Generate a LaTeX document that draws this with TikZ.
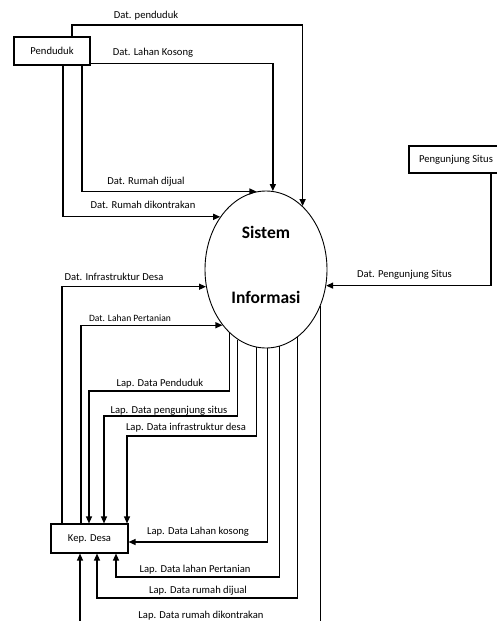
\documentclass[tikz,border=0pt]{standalone}
\usepackage{fontspec}
\setmainfont{Carlito}
\usetikzlibrary{arrows.meta,shapes.geometric}
\begin{document}
\begin{tikzpicture}[x=1pt,y=-1pt,
  ent/.style={draw,line width=1.1pt,rectangle,inner sep=0pt,font=\fontsize{10.6}{12}\selectfont},
  proc/.style={draw,line width=0.9pt,ellipse,inner sep=0pt,minimum width=122pt,minimum height=157pt},
  big/.style={font=\fontsize{17.5}{20}\selectfont\bfseries, inner sep=0pt},
  lbl/.style={font=\fontsize{10.6}{12}\selectfont, inner sep=0pt},
  flow/.style={line width=1.3pt,-{Triangle[length=7pt,width=6pt]}},
  plain/.style={line width=1.3pt}]
\useasboundingbox (0,0) rectangle (497,621);
\clip (0,0) rectangle (497,621);
% entities
\node[ent,minimum width=76pt,minimum height=28pt] (pend) at (52,51) {Penduduk};
\node[ent,minimum width=94pt,minimum height=27pt] (peng) at (456,159.5) {Pengunjung Situs};
\node[ent,minimum width=77pt,minimum height=29pt] (kep) at (89.5,538.5) {Kep. Desa};
% process
\node[proc] (ell) at (266,269.5) {};
\node[big] (t1) at (266,232) {Sistem};
\node[big] (t2) at (266,297) {Informasi};
% helper coordinates
\coordinate (a1) at (72,25);
\coordinate (x82) at (82,0);
\coordinate (x63) at (63,0);
\coordinate (x62) at (62,0);
\coordinate (x81) at (81,0);
\coordinate (x491) at (491,0);
\coordinate (b1) at (89,391);
\coordinate (b2) at (104,416);
\coordinate (b3) at (127,436);
\coordinate (b5) at (116,577);
\coordinate (b6) at (97,598);
\coordinate (b7) at (80,640);
% inputs
\draw[flow] (pend.north -| a1) -- (a1) -| (ell.60);
\draw[flow] ([yshift=2pt]pend.south east) -| (ell.85);
\draw[flow] (pend.south -| x82) |- (ell.97);
\draw[flow] (pend.south -| x63) |- (ell.131);
\draw[flow] (kep.north -| x62) |- (ell.196);
\draw[flow] (kep.north -| x81) |- (ell.232);
\draw[flow] (peng.south -| x491) |- (ell.-15);
% outputs
\draw[flow] (ell.240) |- (b1) -- (kep.north -| b1);
\draw[flow] (ell.248) |- (b2) -- (kep.north -| b2);
\draw[flow] (ell.263) |- (b3) -- (kep.north -| b3);
\draw[flow] (ell.271) |- ([yshift=-3.5pt]kep.east);
\draw[flow] (ell.280) |- (b5) -- (kep.south -| b5);
\draw[flow] (ell.295) |- (b6) -- (kep.south -| b6);
\draw[flow] (ell.326) |- (b7) -- (kep.south -| b7);
% labels
\node[lbl] (l1) at (146,16) {Dat. penduduk};
\node[lbl] (l2) at (153,53) {Dat. Lahan Kosong};
\node[lbl] (l3) at (146,182) {Dat. Rumah dijual};
\node[lbl] (l4) at (143,205) {Dat. Rumah dikontrakan};
\node[lbl] (l5) at (114,277) {Dat. Infrastruktur Desa};
\node[lbl,font=\fontsize{9.6}{11}\selectfont] (l6) at (130,318) {Dat. Lahan Pertanian};
\node[lbl] (l7) at (404.5,275) {Dat. Pengunjung Situs};
\node[lbl] (l8) at (160,384) {Lap. Data Penduduk};
\node[lbl] (l9) at (169,411) {Lap. Data pengunjung situs};
\node[lbl] (l10) at (186,428) {Lap. Data infrastruktur desa};
\node[lbl] (l11) at (198,532) {Lap. Data Lahan kosong};
\node[lbl] (l12) at (195,570) {Lap. Data lahan Pertanian};
\node[lbl] (l13) at (198,591) {Lap. Data rumah dijual};
\node[lbl] (l14) at (201,616) {Lap. Data rumah dikontrakan};
\end{tikzpicture}
\end{document}
